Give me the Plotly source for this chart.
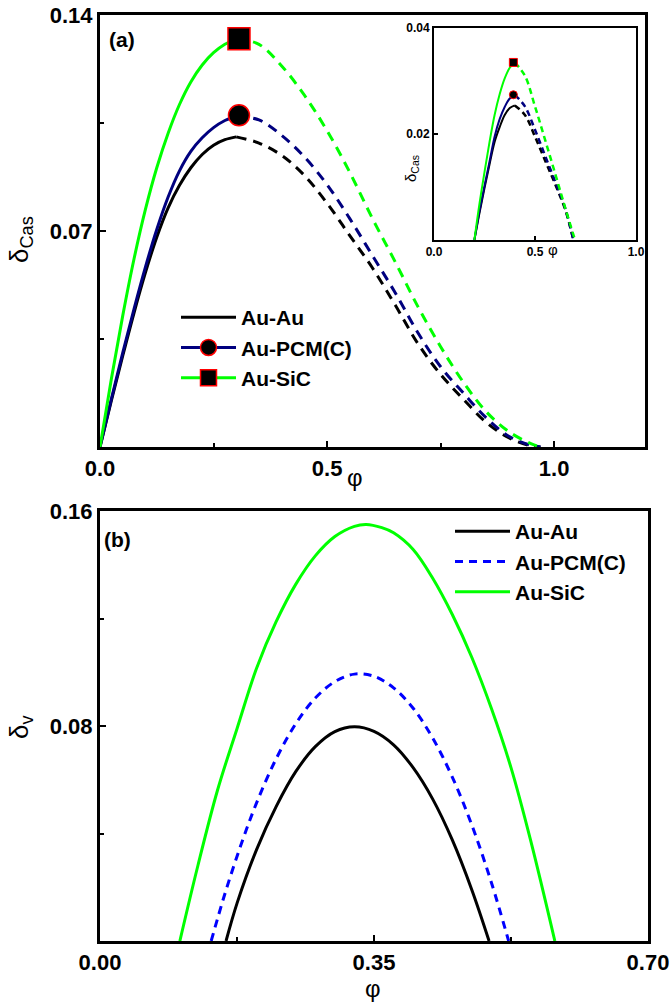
import plotly.graph_objects as go

W, H = 670, 1002

# ---------------- Panel (a) main data ----------------
phi_a_solid = [0, 0.025, 0.05, 0.075, 0.1, 0.125, 0.15, 0.175, 0.2, 0.225, 0.25, 0.275, 0.3]
a_auau_solid = [0, 0.015, 0.0295, 0.0435, 0.0565, 0.068, 0.0775, 0.0848, 0.0905, 0.0948, 0.0978, 0.0996, 0.1005]
a_pcm_solid = [0, 0.0155, 0.0305, 0.0448, 0.0583, 0.0705, 0.081, 0.0895, 0.0958, 0.1002, 0.1035, 0.1058, 0.1072]
a_sic_solid = [0, 0.022, 0.0425, 0.061, 0.077, 0.0905, 0.1017, 0.111, 0.1183, 0.1238, 0.1278, 0.1305, 0.1323]

phi_a_dash = [0.3, 0.35, 0.4, 0.45, 0.5, 0.55, 0.6, 0.65, 0.7, 0.75, 0.8, 0.85, 0.9, 0.95, 0.97]
a_auau_dash = [0.1005, 0.0985, 0.0945, 0.088, 0.079, 0.0685, 0.058, 0.046, 0.0335, 0.0235, 0.0155, 0.008, 0.003, 0.0003, 0.0]
a_pcm_dash = [0.1072, 0.106, 0.101, 0.094, 0.085, 0.074, 0.062, 0.050, 0.037, 0.026, 0.0175, 0.0095, 0.0035, 0.0005, 0.0]
a_sic_dash = [0.1323, 0.1305, 0.1235, 0.114, 0.1025, 0.089, 0.074, 0.060, 0.0455, 0.0325, 0.021, 0.0115, 0.005, 0.001, 0.0]

peak_phi_a = [0.306]
peak_pcm_a = [0.1075]
peak_sic_a = [0.1323]

# ---------------- Inset data ----------------
phi_in_solid = [0.2, 0.225, 0.25, 0.275, 0.3, 0.325, 0.35, 0.375, 0.4]
in_auau_solid = [0, 0.0051, 0.0098, 0.0143, 0.0185, 0.0213, 0.0236, 0.0249, 0.0254]
in_pcm_solid = [0, 0.0054, 0.0102, 0.0148, 0.0195, 0.0228, 0.0251, 0.0267, 0.0274]
in_sic_solid = [0, 0.0068, 0.0128, 0.0185, 0.0236, 0.0275, 0.0305, 0.0325, 0.0335]

phi_in_dash = [0.4, 0.45, 0.5, 0.55, 0.6, 0.65, 0.69]
in_auau_dash = [0.0254, 0.0236, 0.0195, 0.015, 0.0105, 0.0057, 0]
in_pcm_dash = [0.0274, 0.0252, 0.0208, 0.0159, 0.011, 0.0059, 0]
phi_in_sic_dash = [0.4, 0.45, 0.5, 0.55, 0.6, 0.65, 0.698]
in_sic_dash = [0.0335, 0.031, 0.0252, 0.0189, 0.0125, 0.006, 0]

peak_phi_in = [0.393]
peak_pcm_in = [0.0274]
peak_sic_in = [0.0335]

# ---------------- Panel (b) data ----------------
phi_b_auau = [0.161, 0.175, 0.2, 0.225, 0.25, 0.275, 0.3, 0.325, 0.35, 0.375, 0.4, 0.425, 0.45, 0.475, 0.497]
b_auau = [0, 0.014, 0.034, 0.050, 0.063, 0.0723, 0.0779, 0.0797, 0.078, 0.073, 0.0645, 0.0528, 0.0376, 0.019, 0]
phi_b_pcm = [0.142, 0.16, 0.18, 0.2, 0.225, 0.25, 0.275, 0.3, 0.325, 0.35, 0.375, 0.4, 0.425, 0.45, 0.475, 0.5, 0.522]
b_pcm = [0, 0.018, 0.0357, 0.0514, 0.0678, 0.0808, 0.0904, 0.0965, 0.0993, 0.0985, 0.0942, 0.0866, 0.0755, 0.061, 0.0431, 0.0217, 0]
phi_b_sic = [0.102, 0.125, 0.15, 0.175, 0.2, 0.225, 0.25, 0.275, 0.3, 0.325, 0.34, 0.36, 0.375, 0.4, 0.425, 0.45, 0.475, 0.5, 0.525, 0.55, 0.581]
b_sic = [0, 0.028, 0.056, 0.079, 0.1015, 0.1188, 0.1327, 0.1433, 0.1505, 0.1543, 0.155, 0.1538, 0.1519, 0.1457, 0.135, 0.1215, 0.1055, 0.0865, 0.0645, 0.0375, 0]

series_names = ["Au-Au", "Au-PCM(C)", "Au-SiC"]

x_ticks_a = [0, 0.5, 1.0]
x_ticktext_a = ["0.0", "0.5", "1.0"]
y_ticks_a = [0.07, 0.14]
y_ticktext_a = ["0.07", "0.14"]
x_ticks_b = [0, 0.35, 0.7]
x_ticktext_b = ["0.00", "0.35", "0.70"]
y_ticks_b = [0.08, 0.16]
y_ticktext_b = ["0.08", "0.16"]
x_ticks_in = [0, 0.5, 1.0]
x_ticktext_in = ["0.0", "0.5", "1.0"]
y_ticks_in = [0.02, 0.04]
y_ticktext_in = ["0.02", "0.04"]

BLACK = "#000000"
NAVY = "#00007F"
GREEN = "#00FF00"
BLUE = "#0000FF"
RED = "#FF0000"
DASH_A = "10px,7px"
DASH_B = "8px,6px"
FONT = "Arial, Liberation Sans, sans-serif"

fig = go.Figure()

def px_x(p):
    return p / W

def px_y(p):
    return 1 - p / H

# ---- panel (a) main curves ----
for ys, yd, col in [(a_auau_solid, a_auau_dash, BLACK),
                    (a_pcm_solid, a_pcm_dash, NAVY),
                    (a_sic_solid, a_sic_dash, GREEN)]:
    fig.add_trace(go.Scatter(x=phi_a_solid, y=ys, mode="lines", line=dict(color=col, width=3, shape="spline"),
                             showlegend=False, xaxis="x", yaxis="y"))
    fig.add_trace(go.Scatter(x=phi_a_dash, y=yd, mode="lines", line=dict(color=col, width=3, dash=DASH_A, shape="spline"),
                             showlegend=False, xaxis="x", yaxis="y"))
fig.add_trace(go.Scatter(x=peak_phi_a, y=peak_pcm_a, mode="markers",
                         marker=dict(symbol="circle", size=21, color=BLACK, line=dict(color=RED, width=1.5)),
                         showlegend=False, xaxis="x", yaxis="y"))
fig.add_trace(go.Scatter(x=peak_phi_a, y=peak_sic_a, mode="markers",
                         marker=dict(symbol="square", size=22, color=BLACK, line=dict(color=RED, width=1.5)),
                         showlegend=False, xaxis="x", yaxis="y"))

# legend entries for (a)
fig.add_trace(go.Scatter(x=[None], y=[None], mode="lines", name=series_names[0],
                         line=dict(color=BLACK, width=3), legend="legend", xaxis="x", yaxis="y"))
fig.add_trace(go.Scatter(x=[None], y=[None], mode="lines+markers", name=series_names[1],
                         line=dict(color=NAVY, width=3),
                         marker=dict(symbol="circle", size=16, color=BLACK, line=dict(color=RED, width=1.5)),
                         legend="legend", xaxis="x", yaxis="y"))
fig.add_trace(go.Scatter(x=[None], y=[None], mode="lines+markers", name=series_names[2],
                         line=dict(color=GREEN, width=3),
                         marker=dict(symbol="square", size=16, color=BLACK, line=dict(color=RED, width=1.5)),
                         legend="legend", xaxis="x", yaxis="y"))

# ---- inset ----
for ys, col in [(in_auau_solid, BLACK), (in_pcm_solid, NAVY), (in_sic_solid, GREEN)]:
    fig.add_trace(go.Scatter(x=phi_in_solid, y=ys, mode="lines", line=dict(color=col, width=2, shape="spline"),
                             showlegend=False, xaxis="x3", yaxis="y3"))
for xs, ys, col in [(phi_in_dash, in_auau_dash, BLACK), (phi_in_dash, in_pcm_dash, NAVY),
                    (phi_in_sic_dash, in_sic_dash, GREEN)]:
    fig.add_trace(go.Scatter(x=xs, y=ys, mode="lines", line=dict(color=col, width=2.5, dash="6px,4px", shape="spline"),
                             showlegend=False, xaxis="x3", yaxis="y3"))
fig.add_trace(go.Scatter(x=peak_phi_in, y=peak_pcm_in, mode="markers",
                         marker=dict(symbol="circle", size=8, color=BLACK, line=dict(color=RED, width=1)),
                         showlegend=False, xaxis="x3", yaxis="y3"))
fig.add_trace(go.Scatter(x=peak_phi_in, y=peak_sic_in, mode="markers",
                         marker=dict(symbol="square", size=8, color=BLACK, line=dict(color=RED, width=1)),
                         showlegend=False, xaxis="x3", yaxis="y3"))

# ---- panel (b) ----
fig.add_trace(go.Scatter(x=phi_b_auau, y=b_auau, mode="lines", name=series_names[0],
                         line=dict(color=BLACK, width=3, shape="spline"), legend="legend2", xaxis="x2", yaxis="y2"))
fig.add_trace(go.Scatter(x=phi_b_pcm, y=b_pcm, mode="lines", name=series_names[1],
                         line=dict(color=BLUE, width=3, dash=DASH_B, shape="spline"), legend="legend2", xaxis="x2", yaxis="y2"))
fig.add_trace(go.Scatter(x=phi_b_sic, y=b_sic, mode="lines", name=series_names[2],
                         line=dict(color=GREEN, width=3, shape="spline"), legend="legend2", xaxis="x2", yaxis="y2"))

tickfont = dict(family=FONT, size=22, color=BLACK, weight="bold")
tickfont_in = dict(family=FONT, size=12, color=BLACK, weight="bold")

def axis(domain, rng, tv, tt, minor_vals, anchor, font, lw=3, tl=6):
    d = dict(domain=domain, range=rng, tickmode="array", tickvals=tv, ticktext=tt,
             ticks="inside", ticklen=tl, tickwidth=2, tickcolor=BLACK,
             showline=True, linewidth=lw, linecolor=BLACK, mirror=True, automargin=False,
             showgrid=False, zeroline=False, tickfont=font, anchor=anchor, fixedrange=True)
    if minor_vals:
        d["minor"] = dict(tickmode="array", tickvals=minor_vals, ticks="inside", ticklen=4,
                          tickwidth=2, tickcolor=BLACK, showgrid=False)
    return d

fig.update_layout(
    width=W, height=H, autosize=False,
    margin=dict(l=0, r=0, t=0, b=0, autoexpand=False),
    paper_bgcolor="white", plot_bgcolor="white",
    xaxis=axis([px_x(100), px_x(645)], [0, 1.2], x_ticks_a, x_ticktext_a, [0.25, 0.75], "y", tickfont),
    yaxis=axis([px_y(447), px_y(15)], [0, 0.14], y_ticks_a, y_ticktext_a, [0.035, 0.105], "x", tickfont),
    xaxis2=axis([px_x(100), px_x(648)], [0, 0.7], x_ticks_b, x_ticktext_b, [0.175, 0.525], "y2", tickfont),
    yaxis2=axis([px_y(941), px_y(511)], [0, 0.16], y_ticks_b, y_ticktext_b, [0.04, 0.12], "x2", tickfont),
    xaxis3=axis([px_x(434), px_x(636)], [0, 1.0], x_ticks_in, x_ticktext_in, None, "y3", tickfont_in, lw=2, tl=4),
    yaxis3=axis([px_y(240), px_y(28)], [0, 0.04], y_ticks_in, y_ticktext_in, None, "x3", tickfont_in, lw=2, tl=4),
    legend=dict(x=px_x(176), y=px_y(297), xanchor="left", yanchor="top", bgcolor="rgba(0,0,0,0)",
                font=dict(family=FONT, size=21, color=BLACK, weight="bold"), itemwidth=55,
                tracegroupgap=0),
    legend2=dict(x=px_x(450), y=px_y(511), xanchor="left", yanchor="top", bgcolor="rgba(0,0,0,0)",
                 font=dict(family=FONT, size=21, color=BLACK, weight="bold"), itemwidth=55,
                 tracegroupgap=0),
    showlegend=True,
)

ann_font_b = dict(family=FONT, size=21, color=BLACK, weight="bold")
annotations = [
    dict(text="(a)", x=px_x(122), y=px_y(40), font=ann_font_b),
    dict(text="(b)", x=px_x(118), y=px_y(539), font=ann_font_b),
    dict(text="φ", x=px_x(355), y=px_y(477), font=dict(family=FONT, size=24, color=BLACK)),
    dict(text="φ", x=px_x(373), y=px_y(988), font=dict(family=FONT, size=24, color=BLACK)),
    dict(text="δ<sub>Cas</sub>", x=px_x(20), y=px_y(240), textangle=-90,
         font=dict(family=FONT, size=26, color=BLACK)),
    dict(text="δ<sub>v</sub>", x=px_x(20), y=px_y(727), textangle=-90,
         font=dict(family=FONT, size=26, color=BLACK)),
    dict(text="δ<sub>Cas</sub>", x=px_x(411), y=px_y(168), textangle=-90,
         font=dict(family=FONT, size=15, color=BLACK)),
    dict(text="φ", x=px_x(553), y=px_y(250), font=dict(family=FONT, size=15, color=BLACK)),
]
for a in annotations:
    a.update(xref="paper", yref="paper", showarrow=False, xanchor="center", yanchor="middle")
fig.update_layout(annotations=annotations)

fig.write_html("out.html")
